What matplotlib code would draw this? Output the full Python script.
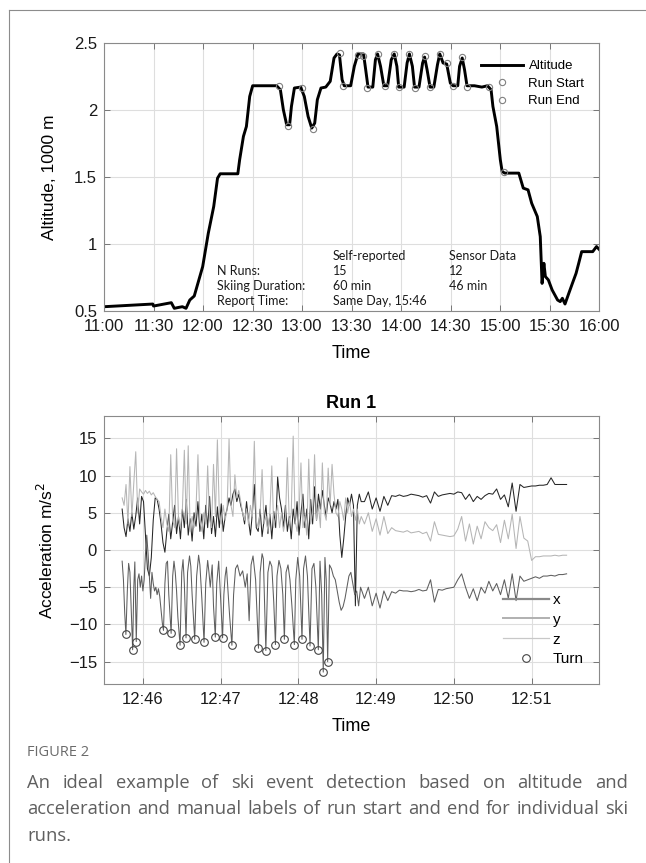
import numpy as np
import matplotlib
matplotlib.use("Agg")
import matplotlib.pyplot as plt
from matplotlib.lines import Line2D

# ---- top panel: altitude over the day (minutes after 11:00, altitude in 1000 m)
alt_min = [0, 29.6, 30.0, 40.8, 42.6, 45.3, 47.5, 49.7, 52.0, 54.7,
           59.8, 63.2, 66.5, 68.8, 70.4, 81.1, 82.2, 84.5, 86.3, 88.3,
           90.1, 104.6, 106.9, 108.7, 110.7, 112.5, 113.6, 115.4, 119.2, 121.4,
           123.7, 125.9, 127.7, 129.3, 131.5, 134.4, 137.1, 139.4, 141.2, 142.7,
           144.3, 145.6, 149.5, 151.7, 153.9, 157.3, 158.6, 160.0, 162.9, 164.5,
           165.8, 167.6, 169.6, 171.9, 174.1, 175.9, 177.5, 178.6, 181.9, 183.7,
           185.1, 186.9, 188.2, 190.9, 193.1, 194.3, 195.8, 197.6, 199.9, 202.1,
           203.5, 205.5, 207.7, 209.9, 211.5, 214.4, 215.5, 217.1, 218.5, 220.0,
           224.5, 229.0, 232.4, 234.6, 235.7, 238.0, 240.2, 241.3, 242.9, 251.4,
           254.1, 257.0, 259.2, 262.6, 264.4, 265.5, 266.6, 267.5, 269.3, 271.6,
           274.9, 276.5, 277.8, 279.4, 281.7, 283.9, 286.1, 287.7, 289.5, 296.2,
           298.5, 300.0]
alt_km = [0.532, 0.552, 0.537, 0.562, 0.520, 0.527, 0.532, 0.520, 0.582, 0.612,
          0.831, 1.080, 1.280, 1.491, 1.524, 1.524, 1.628, 1.803, 1.877, 2.101,
          2.181, 2.181, 2.151, 2.002, 1.890, 1.890, 2.027, 2.164, 2.171, 2.101,
          1.952, 1.865, 1.902, 2.077, 2.164, 2.171, 2.214, 2.388, 2.418, 2.411,
          2.226, 2.181, 2.181, 2.326, 2.418, 2.418, 2.301, 2.171, 2.171, 2.375,
          2.418, 2.326, 2.181, 2.181, 2.375, 2.418, 2.326, 2.171, 2.171, 2.351,
          2.418, 2.326, 2.171, 2.171, 2.351, 2.395, 2.301, 2.171, 2.171, 2.338,
          2.418, 2.351, 2.343, 2.201, 2.181, 2.181, 2.326, 2.388, 2.301, 2.181,
          2.181, 2.171, 2.181, 2.151, 2.027, 1.877, 1.628, 1.541, 1.529, 1.529,
          1.417, 1.404, 1.304, 1.205, 1.055, 0.706, 0.856, 0.757, 0.732, 0.657,
          0.582, 0.570, 0.595, 0.552, 0.632, 0.707, 0.781, 0.856, 0.943, 0.943,
          0.981, 0.961]
start_min = [105.8, 120.3, 143.2, 153.9, 156.8, 165.8, 175.9, 185.1, 194.3, 203.4, 217.1, 233.5]
start_km = [2.181, 2.164, 2.425, 2.411, 2.400, 2.418, 2.418, 2.420, 2.400, 2.418, 2.393, 2.171]
end_min = [111.4, 126.6, 145.0, 159.5, 170.1, 178.6, 188.2, 197.6, 207.7, 211.5, 220.0, 242.4]
end_km = [1.877, 1.857, 2.181, 2.164, 2.181, 2.169, 2.164, 2.171, 2.351, 2.181, 2.171, 1.541]
top_ticks = [0, 30, 60, 90, 120, 150, 180, 210, 240, 270, 300]
top_labels = ["11:00", "11:30", "12:00", "12:30", "13:00", "13:30",
              "14:00", "14:30", "15:00", "15:30", "16:00"]
table_rows = [["", "Self-reported", "Sensor Data"],
              ["N Runs:", "15", "12"],
              ["Skiing Duration:", "60 min", "46 min"],
              ["Report Time:", "Same Day, 15:46", ""]]

# ---- bottom panel: Run 1 acceleration (seconds after 12:45:00)
# x and z: every 1.5 s from 12:45:44, then every 3 s from 12:48:51
acc_x_fast = [5.5, 3.0, 1.8, 4.2, 2.5, 5.0, 2.8, 4.6, 7.0, 3.5,
              7.2, 6.5, 2.0, -2.5, -3.5, -1.0, 4.0, 7.0, 6.8, 5.5,
              3.5, 1.0, -0.3, 2.5, 4.8, 1.5, 3.8, 6.0, 2.2, 4.5,
              1.5, 5.5, 3.0, 6.8, 2.0, 4.2, 1.2, 5.0, 3.2, 6.5,
              2.5, 4.8, 1.5, 6.0, 3.0, 7.2, 2.2, 4.5, 1.8, 5.8,
              3.0, 6.2, 2.5, 4.5, 5.5, 7.0, 6.0, 7.5, 8.2, 6.5,
              7.5, 6.0, 5.0, 3.5, 6.5, 4.0, 2.0, 5.0, 8.8, 3.0,
              2.5, 5.5, 1.8, 4.0, 6.0, 2.2, 4.8, 1.5, 5.2, 3.0,
              9.8, 7.0, 5.5, 3.0, 6.0, 2.5, 4.5, 1.5, 5.5, 3.5,
              6.5, 2.0, 5.0, 7.5, 3.0, 5.5, 1.5, 6.8, 3.5, 8.5,
              4.0, 7.5, 5.5, 8.0, 6.0, 4.5, 7.0, 6.2, 5.0, 6.5,
              5.5, 6.8, 2.0, -1.0, 1.5, 4.5, 7.0, 6.0, 7.5, 6.0,
              -7.5, 6.0, 7.5, 6.5]
acc_x_slow = [6.5, 7.8, 5.5, 7.0, 5.2, 7.2, 6.0, 7.3, 7.2, 7.4,
              7.2, 7.3, 7.5, 7.4, 7.3, 7.1, 7.3, 6.3, 7.8, 7.2,
              7.4, 7.5, 7.6, 7.5, 7.8, 7.7, 6.8, 7.5, 6.5, 7.2,
              6.8, 7.3, 7.6, 7.5, 8.2, 6.8, 7.4, 5.8, 9.0, 5.2,
              8.8, 8.4, 8.5, 8.6, 8.6, 8.7, 8.7, 8.8, 9.7, 8.8,
              8.8, 8.8, 8.8]
acc_z_fast = [7.0, 6.0, 8.8, 3.5, 11.2, 4.5, 9.0, 13.2, 5.0, 8.2,
              7.8, 7.5, 8.0, 7.6, 7.9, 7.4, 7.7, 7.2, 6.8, 6.5,
              4.5, 3.0, 5.5, 3.5, 2.5, 12.8, 4.0, 3.0, 13.6, 4.2,
              3.0, 5.5, 13.4, 3.5, 14.0, 2.5, 4.5, 3.0, 5.5, 12.8,
              4.0, 2.5, 5.0, 3.5, 11.3, 4.0, 3.0, 11.5, 4.5, 14.8,
              5.0, 3.5, 6.0, 4.0, 5.5, 14.9, 6.0, 4.5, 10.1, 7.0,
              8.0, 6.5, 5.0, 4.0, 5.5, 3.5, 6.0, 4.5, 14.6, 4.0,
              3.0, 5.0, 10.8, 3.5, 4.5, 2.5, 5.0, 11.3, 3.0, 4.5,
              6.0, 3.0, 5.0, 2.5, 4.0, 12.4, 3.5, 5.0, 15.3, 4.0,
              2.5, 5.0, 11.7, 3.0, 4.5, 2.0, 12.2, 3.5, 5.0, 12.8,
              4.0, 6.0, 3.0, 11.7, 5.0, 4.0, 11.0, 6.0, 11.5, 7.5,
              5.0, 4.5, 6.5, 5.5, 4.0, 7.0, 5.0, 6.5, 4.5, 5.5,
              4.0, 5.5, 3.5, 4.5]
acc_z_slow = [3.5, 5.0, 2.5, 4.2, 2.0, 4.5, 2.2, 3.0, 2.6, 2.5,
              2.4, 2.6, 2.3, 2.4, 2.5, 2.2, 2.4, 1.2, 3.8, 2.1,
              2.0, 1.9, 1.8, 1.9, 2.8, 4.5, 1.2, 3.5, 0.8, 3.2,
              1.5, 3.8, 3.0, 2.6, 3.4, 1.0, 4.0, 1.5, 4.8, 0.2,
              4.5, 1.6, 1.2, -1.4, -0.9, -0.9, -0.8, -0.8, -0.8, -0.7,
              -0.8, -0.7, -0.7]
# y: irregular samples while turning, then every 3 s
acc_y_fast_t = [44, 45, 46, 46.9, 48, 49, 50, 51, 52.1, 53,
                53.8, 54.9, 56, 57, 58, 59, 60, 61, 62, 63,
                64, 65, 66, 67, 68, 69, 70, 71, 72, 73,
                74, 75, 75.9, 77, 78, 79, 80, 81.8, 83, 84,
                85, 86, 87, 88.7, 90, 91, 92, 93.3, 94.5, 96,
                97, 98, 100, 101.5, 103, 104, 105.5, 107.2, 108.5, 110,
                111, 112, 113.5, 114.5, 115.9, 117, 118.5, 120, 121.5, 122.5,
                123.5, 124.5, 125.5, 127, 128.7, 130, 131.5, 133, 135, 137,
                139, 140.5, 142, 143.5, 145, 147, 149.2, 150.5, 152, 153,
                154.9, 156.5, 158, 159.5, 161, 162.3, 163.5, 165, 166.5, 168,
                169.2, 170.5, 172, 173.5, 175, 176.9, 178, 179.5, 181, 182.8,
                184, 185.5, 187, 189, 190.5, 192, 193.5, 195.4, 196.7, 198,
                199.2, 200.5, 201.5, 202.6, 204, 205.5, 207, 208.5, 210, 211.5,
                213, 214.5, 216, 217.5, 219, 220.5, 222, 223.5, 225, 226.5,
                228]
acc_y_fast = [-1.5, -4.0, -8.5, -11.35, -5.5, -1.8, -3.0, -8.0, -13.4, -5.0,
              -1.6, -12.3, -4.0, -3.2, -5.0, -3.5, -5.5, -4.0, -0.5, 2.0,
              -0.5, -3.5, -6.5, -3.0, -4.5, -5.5, -5.0, -6.0, -5.2, -6.2,
              -8.0, -9.8, -10.8, -4.5, -1.8, -1.5, -6.0, -11.2, -3.5, -1.5,
              -3.0, -5.5, -9.0, -12.8, -3.0, -1.3, -4.5, -11.8, -3.0, -0.8,
              -2.2, -6.0, -12.0, -3.5, -0.7, -2.0, -6.5, -12.4, -4.5, -1.4,
              -3.0, -5.0, -2.0, -7.5, -11.7, -4.5, -1.5, -6.5, -11.8, -6.0,
              -3.5, -2.3, -5.0, -9.0, -12.8, -6.0, -2.5, -2.0, -3.5, -2.8,
              -5.0, -3.2, -9.5, -2.0, -0.8, -4.0, -13.2, -3.0, -0.5, -1.2,
              -13.5, -3.0, -1.5, -2.2, -7.0, -12.7, -3.5, -1.4, -2.5, -6.0,
              -12.0, -3.0, -2.0, -4.0, -7.5, -12.7, -4.0, -1.0, -3.5, -12.0,
              -2.5, -0.8, -3.5, -12.9, -2.5, -1.8, -5.0, -13.4, -1.5, -6.0,
              -16.4, -1.0, -4.0, -15.0, -2.0, -2.5, -3.5, -4.0, -5.5, -7.0,
              -8.1, -7.6, -6.5, -5.0, -3.5, -3.0, -4.5, -6.0, -5.5, -7.5,
              -5.0]
acc_y_slow = [-6.5, -5.0, -7.5, -5.8, -7.8, -5.5, -6.8, -5.6, -5.8, -5.4,
              -5.5, -5.5, -5.6, -5.5, -5.3, -5.5, -5.4, -4.0, -7.0, -5.3,
              -5.4, -5.2, -5.1, -5.0, -4.0, -3.2, -5.0, -6.5, -5.2, -6.8,
              -5.0, -5.8, -4.2, -5.5, -4.5, -6.0, -4.0, -6.5, -3.2, -6.8,
              -3.5, -4.2, -4.0, -3.8, -3.6, -3.8, -3.5, -3.5, -3.4, -3.5,
              -3.3, -3.3, -3.2]
turn_t = [46.9, 52.1, 54.9, 75.9, 81.8, 88.7, 93.3, 100.0, 107.2, 115.9, 121.5,
          128.7, 149.2, 154.9, 162.3, 169.2, 176.9, 182.8, 189.0, 195.4, 199.2, 202.6]
turn_v = [-11.35, -13.4, -12.3, -10.8, -11.2, -12.8, -11.8, -12.0, -12.4, -11.7, -11.8,
          -12.8, -13.2, -13.5, -12.7, -12.0, -12.7, -12.0, -12.9, -13.4, -16.4, -15.0]
bot_ticks = [60, 120, 180, 240, 300, 360]
bot_labels = ["12:46", "12:47", "12:48", "12:49", "12:50", "12:51"]

caption_head = "FIGURE 2"
caption_lines = ["An ideal example of ski event detection based on altitude and",
                 "acceleration and manual labels of run start and end for individual ski",
                 "runs."]

W, H = 646, 863
plt.rcParams["font.family"] = ["Liberation Sans", "DejaVu Sans"]


def style_axes(ax):
    ax.grid(True, color="#dedede", lw=0.8)
    ax.set_axisbelow(True)
    for s in ax.spines.values():
        s.set_color("#8a8a8a")
        s.set_linewidth(0.8)
    ax.tick_params(direction="in", length=4, width=0.6, color="#666666",
                   top=True, right=True, labelsize=12, labelcolor="#1a1a1a")
    ax.tick_params(axis="x", pad=6)
    ax.tick_params(axis="y", pad=5)


def justify(fig, text, y, x0, x1, **kw):
    words = text.split()
    arts = [fig.text(x0, y, w, va="center", **kw) for w in words]
    r = fig.canvas.get_renderer()
    widths = [a.get_window_extent(r).width / fig.bbox.width for a in arts]
    gap = (x1 - x0 - sum(widths)) / max(len(words) - 1, 1)
    x = x0
    for a, w in zip(arts, widths):
        a.set_x(x)
        x += w + gap


fig = plt.figure(figsize=(W / 100, H / 100), dpi=100)

# outer frame of the figure box
fig.add_artist(Line2D([9 / W, 9 / W], [0, 1 - 10 / H], transform=fig.transFigure,
                      color="#8c8c8c", lw=0.8))
fig.add_artist(Line2D([9 / W, 1], [1 - 10 / H, 1 - 10 / H], transform=fig.transFigure,
                      color="#8c8c8c", lw=0.8))

# ---- top panel
ax1 = fig.add_axes([104 / W, 1 - 311 / H, 495 / W, 268 / H])
ax1.plot(alt_min, alt_km, color="black", lw=2.1, label="Altitude")
ax1.plot(start_min, start_km, ls="none", marker="o", ms=4.5, mfc="none",
         mec="#808080", mew=0.8, label="Run Start")
ax1.plot(end_min, end_km, ls="none", marker="o", ms=4.5, mfc="none",
         mec="#808080", mew=0.8, label="Run End")
ax1.set_xlim(0, 300)
ax1.set_ylim(0.5, 2.5)
ax1.set_xticks(top_ticks)
ax1.set_xticklabels(top_labels)
ax1.set_yticks([0.5, 1, 1.5, 2, 2.5])
ax1.set_yticklabels(["0.5", "1", "1.5", "2", "2.5"])
style_axes(ax1)
ax1.set_xlabel("Time", fontsize=13, labelpad=8)
ax1.set_ylabel("Altitude, 1000 m", fontsize=12.5, labelpad=12)
ax1.legend(loc="upper left", bbox_to_anchor=(481 / W, 1 - 60 / H),
           bbox_transform=fig.transFigure, frameon=False, fontsize=9.5,
           handlelength=3.2, handletextpad=0.4, labelspacing=0.4,
           borderpad=0, borderaxespad=0)

col_x = [0.229, 0.462, 0.696]
row_y = [0.207, 0.151, 0.0925, 0.036]
for r, row in enumerate(table_rows):
    for c, cell in enumerate(row):
        if cell:
            ax1.text(col_x[c], row_y[r], cell, transform=ax1.transAxes,
                     fontsize=9, family=["Lato", "DejaVu Sans"],
                     va="center", ha="left", color="#1a1a1a")

# ---- bottom panel
t_fast = 44 + 1.5 * np.arange(len(acc_x_fast))
t_slow = 231 + 3 * np.arange(len(acc_x_slow))
t_xz = np.concatenate([t_fast, t_slow])
t_y = np.concatenate([acc_y_fast_t, t_slow])

ax2 = fig.add_axes([104 / W, 1 - 684 / H, 495 / W, 268 / H])
ax2.plot(t_xz, acc_x_fast + acc_x_slow, color="#262626", lw=0.75, label="x")
ax2.plot(t_y, acc_y_fast + acc_y_slow, color="#5e5e5e", lw=0.75, label="y")
ax2.plot(t_xz, acc_z_fast + acc_z_slow, color="#b5b5b5", lw=0.75, label="z")
ax2.plot(turn_t, turn_v, ls="none", marker="o", ms=5.5, mfc="none",
         mec="#444444", mew=0.8, label="Turn")
ax2.set_xlim(30, 412)
ax2.set_ylim(-18, 18)
ax2.set_xticks(bot_ticks)
ax2.set_xticklabels(bot_labels)
ax2.set_yticks([-15, -10, -5, 0, 5, 10, 15])
style_axes(ax2)
ax2.set_title("Run 1", fontsize=13, fontweight="bold", pad=6)
ax2.set_xlabel("Time", fontsize=13, labelpad=8)
ax2.set_ylabel("Acceleration m/s$^2$", fontsize=12.5, labelpad=9)
leg = ax2.legend(loc="upper left", bbox_to_anchor=(503 / W, 1 - 593 / H),
                 bbox_transform=fig.transFigure, frameon=False, fontsize=11,
                 handlelength=3.0, handletextpad=0.25, labelspacing=0.38,
                 borderpad=0, borderaxespad=0)
for h, c, w in zip(leg.get_lines()[:3], ["#8a8a8a", "#b0b0b0", "#c8c8c8"], [1.6, 1.4, 0.9]):
    h.set_color(c)
    h.set_linewidth(w)

# ---- caption
fig.text(27 / W, 1 - 752 / H, caption_head, fontsize=10.5, color="#6b6b6b",
         family=["Open Sans", "DejaVu Sans"], va="center")
fig.canvas.draw()
cap_y = [783, 809, 836]
for i, line in enumerate(caption_lines):
    kw = dict(fontsize=13.2, color="#5f5f5f", family=["Open Sans", "DejaVu Sans"])
    if i < len(caption_lines) - 1:
        justify(fig, line, 1 - cap_y[i] / H, 27 / W, 628 / W, **kw)
    else:
        fig.text(27 / W, 1 - cap_y[i] / H, line, va="center", **kw)

fig.savefig("out.png", dpi=100)
